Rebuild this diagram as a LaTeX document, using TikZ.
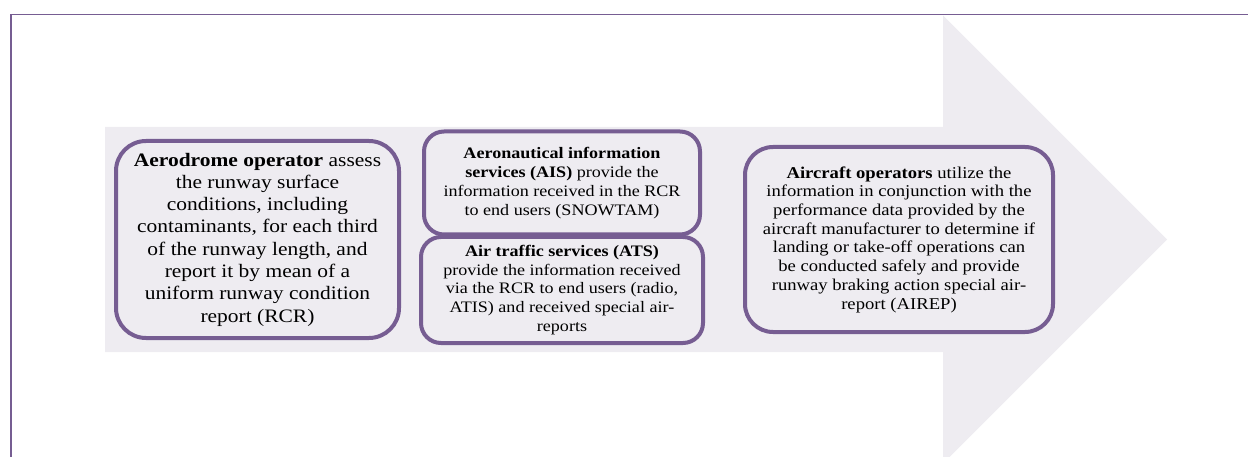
\documentclass[tikz,border=0pt]{standalone}
\usepackage{fontspec}
\setmainfont{Liberation Serif}
\newfontfamily\bigserif[FakeStretch=1.13]{Liberation Serif}
\newfontfamily\smallserif[FakeStretch=1.13]{Liberation Serif}
\definecolor{arrowfill}{RGB}{238,236,241}
\definecolor{boxpurple}{RGB}{118,93,146}
\tikzset{
  infobox/.style={draw=boxpurple, line width=4pt, fill=arrowfill, rounded corners=#1, align=center, inner sep=0pt, text=black},
  bigtext/.style={font=\bigserif\fontsize{19}{22.3}\selectfont},
  smalltext/.style={font=\smallserif\fontsize{16}{18.8}\selectfont},
  midtext/.style={font=\smallserif\fontsize{16.5}{18.7}\selectfont}
}
\begin{document}
\begin{tikzpicture}[x=1pt,y=-1pt]
\useasboundingbox (0,0) rectangle (1248,457);
% frame (top and left sides visible)
\draw[boxpurple, line width=1.8pt] (11,470) -- (11,14.5) -- (1260,14.5);
% big arrow
\fill[arrowfill] (105,127) -- (943,127) -- (943,15.5) -- (1167,239.5) -- (943,463.5) -- (943,352) -- (105,352) -- cycle;
% boxes
\node[infobox=30pt, bigtext, minimum width=283pt, minimum height=197pt] (aero) at (257.5,239.5)
 {\textbf{Aerodrome operator} assess\\the runway surface\\conditions, including\\contaminants, for each third\\of the runway length, and\\report it by mean of a\\uniform runway condition\\report (RCR)};
\node[infobox=20pt, smalltext, minimum width=276pt, minimum height=103pt] (ais) at (562,183)
 {\textbf{Aeronautical information}\\\textbf{services (AIS)} provide the\\information received in the RCR\\to end users (SNOWTAM)};
\node[infobox=20pt, smalltext, minimum width=282pt, minimum height=106pt] (ats) at (562,290)
 {\textbf{Air traffic services (ATS)}\\provide the information received\\via the RCR to end users (radio,\\ATIS) and received special air-\\reports};
\node[infobox=28pt, midtext, minimum width=308pt, minimum height=185pt] (acft) at (899,239.5)
 {\textbf{Aircraft operators} utilize the\\information in conjunction with the\\performance data provided by the\\aircraft manufacturer to determine if\\landing or take-off operations can\\be conducted safely and provide\\runway braking action special air-\\report (AIREP)};
\end{tikzpicture}
\end{document}
